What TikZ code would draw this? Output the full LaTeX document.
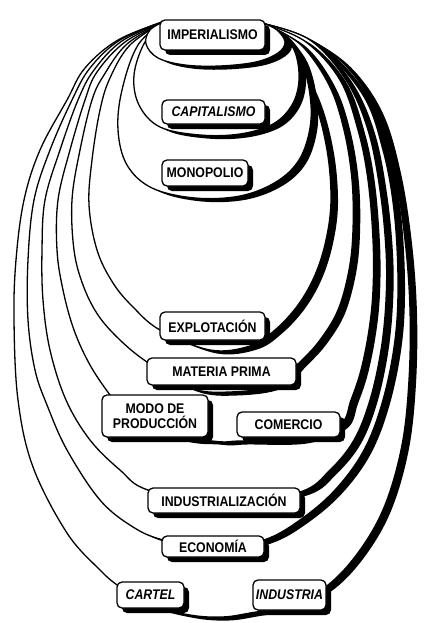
\documentclass[tikz,border=0pt]{standalone}
\usepackage{fontspec}
\setmainfont{Liberation Sans}[FakeStretch=0.88]
\usetikzlibrary{shadows}

% nested loops, from the outermost to the innermost (x right, y down, in pt)
\def\eggCar{plot[smooth,tension=0.6] coordinates {(165,21) (118,40) (85,68) (67,100) (40,150) (24,200) (16,260) (14,320) (18,400) (33,467) (67,533) (100,570) (120,587) (150,605) (190,615) (222,617) (250,613) (290,605) (328,585) (360,550) (385,505) (402,445) (409,380) (410,310) (405,240) (394,170) (376,110) (345,65) (305,37) (265,24)} -- cycle}
\def\eggEco{plot[smooth,tension=0.6] coordinates {(165,21) (120,40) (90,68) (72,100) (50,150) (34,200) (28,260) (28,320) (35,370) (47,405) (67,450) (100,500) (133,527) (163,540) (213,550) (264,540) (300,520) (335,490) (364,450) (383,400) (395,340) (398,280) (394,210) (383,150) (363,95) (318,45) (265,24)} -- cycle}
\def\eggInd{plot[smooth,tension=0.6] coordinates {(165,21) (122,41) (94,70) (78,100) (60,150) (45,200) (42,250) (43,300) (50,350) (66,400) (90,440) (120,470) (148,490) (224,505) (300,492) (330,470) (354,440) (370,400) (381,350) (386,300) (386,250) (380,190) (368,130) (346,80) (310,40) (265,24)} -- cycle}
\def\eggModo{plot[smooth,tension=0.6] coordinates {(165,21) (125,42) (97,72) (85,100) (70,150) (58,200) (57,250) (63,290) (74,330) (90,365) (110,395) (130,420) (180,438) (212,441) (225,442) (240,441) (300,440) (340,425) (351,400) (361,370) (369,330) (373,290) (373,240) (368,180) (358,130) (340,80) (306,42) (265,24)} -- cycle}
\def\eggMat{plot[smooth,tension=0.6] coordinates {(165,21) (127,44) (104,75) (92,100) (80,150) (72,200) (74,250) (83,285) (98,315) (120,340) (147,362) (190,388) (230,392) (275,385) (300,362) (320,340) (338,310) (349,270) (353,230) (352,180) (344,130) (329,85) (301,45) (265,24)} -- cycle}
\def\eggExp{plot[smooth,tension=0.6] coordinates {(165,21) (130,45) (110,78) (100,110) (92,160) (89,205) (97,250) (113,283) (133,307) (160,330) (210,350) (250,346) (275,330) (298,305) (315,275) (326,240) (331,200) (327,150) (314,100) (292,58) (265,24)} -- cycle}
\def\eggMon{plot[smooth,tension=0.6] coordinates {(165,21) (138,45) (122,90) (118,130) (127,165) (152,188) (195,198) (240,196) (276,182) (299,160) (310,128) (310,95) (301,60) (283,36) (265,24)} -- cycle}
\def\eggCap{plot[smooth,tension=0.6] coordinates {(165,21) (145,42) (134,75) (139,105) (160,127) (200,135) (240,134) (273,124) (292,105) (299,80) (295,52) (281,33) (265,24)} -- cycle}
\def\eggImp{plot[smooth,tension=0.6] coordinates {(165,21) (150,30) (146,44) (158,58) (185,65) (220,66) (256,62) (278,53) (285,42) (277,30) (265,24)} -- cycle}

\begin{document}
\begin{tikzpicture}[x=1pt,y=-1pt,
  loopshadow/.style={fill=black,shift={(7,3.5)}},
  loopline/.style={fill=white,draw=black,line width=1.3pt,line join=round},
  tag/.style={draw=black,line width=1.3pt,fill=white,rounded corners=5pt,
    inner sep=0pt,align=center,
    font=\bfseries\fontsize{14}{14.5}\selectfont,
    drop shadow={shadow xshift=5pt,shadow yshift=-5pt,opacity=1,fill=black}},
  tagit/.style={tag,font=\bfseries\itshape\fontsize{14}{14.5}\selectfont}]

\fill[white] (0,0) rectangle (424,623);
\useasboundingbox (0,0) rectangle (424,623);

% loops: shadow first, then the white band with its outline
\fill[loopshadow] \eggCar;  \filldraw[loopline] \eggCar;
\fill[loopshadow] \eggEco;  \filldraw[loopline] \eggEco;
\fill[loopshadow] \eggInd;  \filldraw[loopline] \eggInd;
\fill[loopshadow] \eggModo; \filldraw[loopline] \eggModo;
\fill[loopshadow] \eggMat;  \filldraw[loopline] \eggMat;
\fill[loopshadow] \eggExp;  \filldraw[loopline] \eggExp;
\fill[loopshadow] \eggMon;  \filldraw[loopline] \eggMon;
\fill[loopshadow] \eggCap;  \filldraw[loopline] \eggCap;
\fill[loopshadow] \eggImp;  \filldraw[loopline] \eggImp;

% labelled boxes
\node[tag,minimum width=105pt,minimum height=30pt] (imp) at (212.5,35) {IMPERIALISMO};
\node[tagit,minimum width=103pt,minimum height=24pt] (cap) at (213.5,112) {CAPITALISMO};
\node[tag,minimum width=86pt,minimum height=26pt] (mon) at (205,173) {MONOPOLIO};
\node[tag,minimum width=105pt,minimum height=28pt] (exp) at (212.5,326) {EXPLOTACIÓN};
\node[tag,minimum width=149pt,minimum height=27pt] (mat) at (221.5,371.5) {MATERIA PRIMA};
\node[tag,minimum width=106pt,minimum height=42pt] (modo) at (155,416) {MODO DE\\PRODUCCIÓN};
\node[tag,minimum width=103pt,minimum height=25pt] (com) at (288.5,424.5) {COMERCIO};
\node[tag,minimum width=152pt,minimum height=25pt] (ind) at (224,500.5) {INDUSTRIALIZACIÓN};
\node[tag,minimum width=102pt,minimum height=21pt] (eco) at (213,546.5) {ECONOMÍA};
\node[tagit,minimum width=67pt,minimum height=26pt] (car) at (150.5,595) {CARTEL};
\node[tagit,minimum width=73pt,minimum height=30pt] (inda) at (289.5,595) {INDUSTRIA};
\end{tikzpicture}
\end{document}
